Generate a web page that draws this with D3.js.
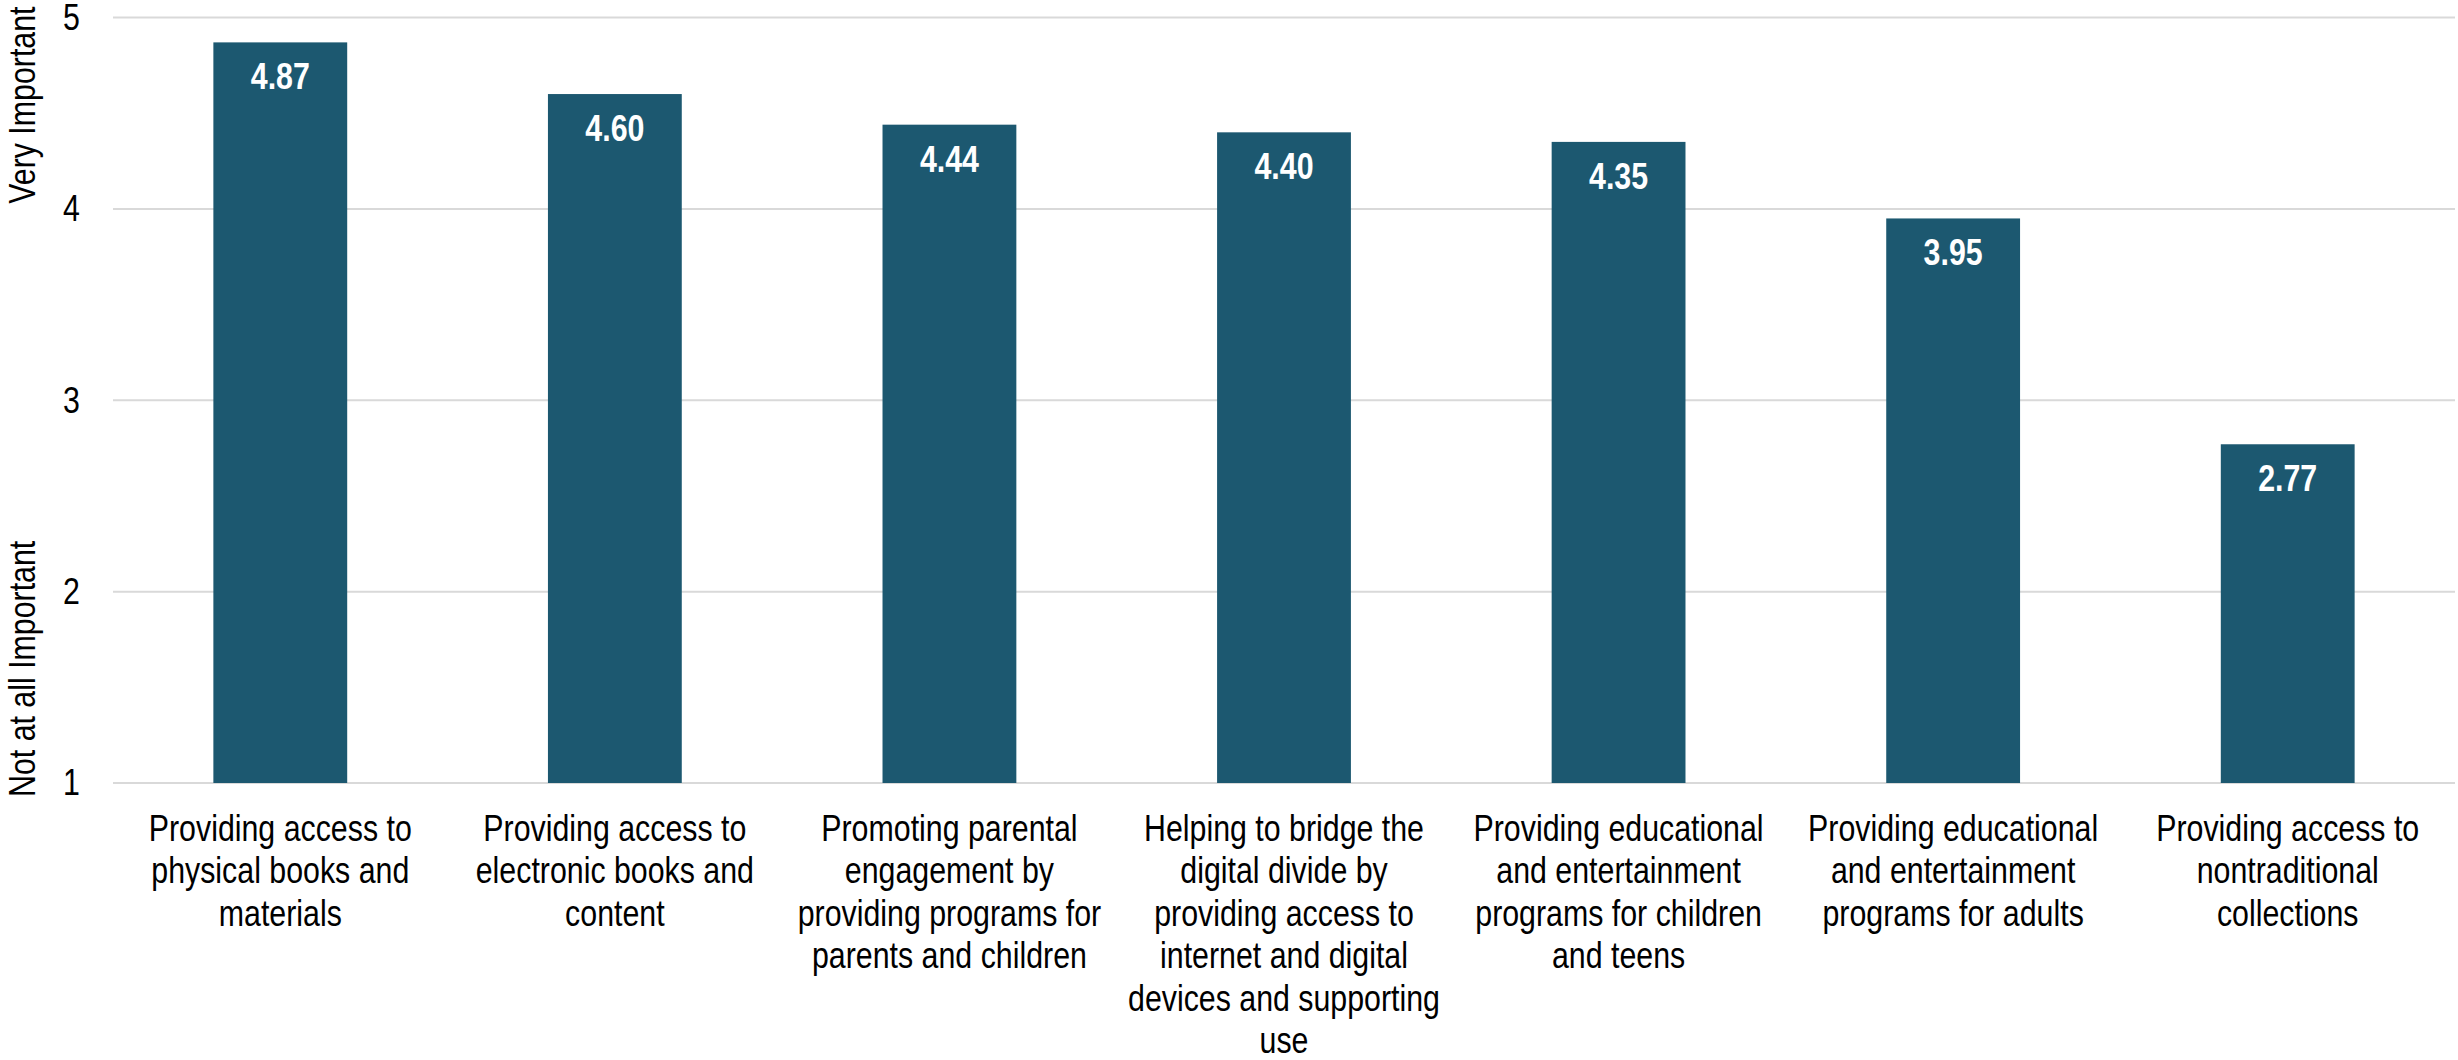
<!DOCTYPE html>
<html>
<head>
<meta charset="utf-8">
<script src="https://cdn.jsdelivr.net/npm/d3@7"></script>
<style>
  html, body { margin: 0; padding: 0; background: #ffffff; }
  svg { display: block; }
  text { font-family: "Liberation Sans", Arial, sans-serif; }
</style>
</head>
<body>
<svg id="chart" width="2458" height="1060"></svg>
<script>
// Mean importance rating (1 = Not at all Important, 5 = Very Important)
const categories = [
  ["Providing access to", "physical books and", "materials"],
  ["Providing access to", "electronic books and", "content"],
  ["Promoting parental", "engagement by", "providing programs for", "parents and children"],
  ["Helping to bridge the", "digital divide by", "providing access to", "internet and digital", "devices and supporting", "use"],
  ["Providing educational", "and entertainment", "programs for children", "and teens"],
  ["Providing educational", "and entertainment", "programs for adults"],
  ["Providing access to", "nontraditional", "collections"]
];
const values = [4.87, 4.60, 4.44, 4.40, 4.35, 3.95, 2.77];
const yTicks = [1, 2, 3, 4, 5];
const yTitleLow = "Not at all Important";
const yTitleHigh = "Very Important";

// Narrow type: Arial metrics compressed horizontally
const narrow = 0.82;
const fontSize = 37;

const svg = d3.select("#chart");
const margin = { top: 17.5, right: 3, bottom: 277, left: 113 };
const width = 2458 - margin.left - margin.right;
const height = 1060 - margin.top - margin.bottom;
const g = svg.append("g").attr("transform", `translate(${margin.left},${margin.top})`);

const ids = categories.map((_, i) => i);
const x = d3.scaleBand().domain(ids).range([0, width]).paddingInner(0.6).paddingOuter(0.3);
const y = d3.scaleLinear().domain([1, 5]).range([height, 0]);

// Horizontal gridlines (including baseline at 1)
g.append("g")
  .selectAll("line")
  .data(yTicks)
  .join("line")
  .attr("x1", 0)
  .attr("x2", width)
  .attr("y1", d => y(d))
  .attr("y2", d => y(d))
  .attr("stroke", "#d9d9d9")
  .attr("stroke-width", 2);

// Y axis tick labels
const yAxis = d3.axisLeft(y).tickValues(yTicks).tickFormat(d3.format("d"))
  .tickSize(0).tickPadding(33 / narrow);
const ya = g.append("g").call(yAxis);
ya.attr("font-family", null).attr("font-size", null);
ya.select(".domain").remove();
ya.selectAll("text")
  .attr("font-size", fontSize)
  .attr("fill", "#000")
  .attr("transform", `scale(${narrow},1)`);

// Bars
g.append("g")
  .selectAll("rect")
  .data(values)
  .join("rect")
  .attr("x", (d, i) => x(i))
  .attr("y", d => y(d))
  .attr("width", x.bandwidth())
  .attr("height", d => y(1) - y(d))
  .attr("fill", "#1c5870");

// Value labels inside the bar tops
g.append("g")
  .selectAll("text")
  .data(values)
  .join("text")
  .attr("transform", (d, i) => `translate(${x(i) + x.bandwidth() / 2},${y(d) + 47}) scale(${narrow},1)`)
  .attr("text-anchor", "middle")
  .attr("font-size", fontSize)
  .attr("font-weight", "bold")
  .attr("fill", "#ffffff")
  .text(d => d.toFixed(2));

// Category labels, one tspan per line
const lineH = 42.4;
const labels = g.append("g")
  .selectAll("text")
  .data(categories)
  .join("text")
  .attr("text-anchor", "middle")
  .attr("font-size", fontSize)
  .attr("fill", "#000")
  .attr("transform", (d, i) => `translate(${x(i) + x.bandwidth() / 2},${height + 58}) scale(${narrow},1)`);
labels.selectAll("tspan")
  .data(d => d)
  .join("tspan")
  .attr("x", 0)
  .attr("y", (d, j) => j * lineH)
  .text(d => d);

// Y axis title, split at both ends of the scale
g.append("text")
  .attr("transform", `translate(${-78},${y(1) + 14}) rotate(-90) scale(${narrow},1)`)
  .attr("text-anchor", "start")
  .attr("font-size", fontSize)
  .attr("fill", "#000")
  .text(yTitleLow);
g.append("text")
  .attr("transform", `translate(${-78},${y(5) - 11}) rotate(-90) scale(${narrow},1)`)
  .attr("text-anchor", "end")
  .attr("font-size", fontSize)
  .attr("fill", "#000")
  .text(yTitleHigh);
</script>
</body>
</html>
